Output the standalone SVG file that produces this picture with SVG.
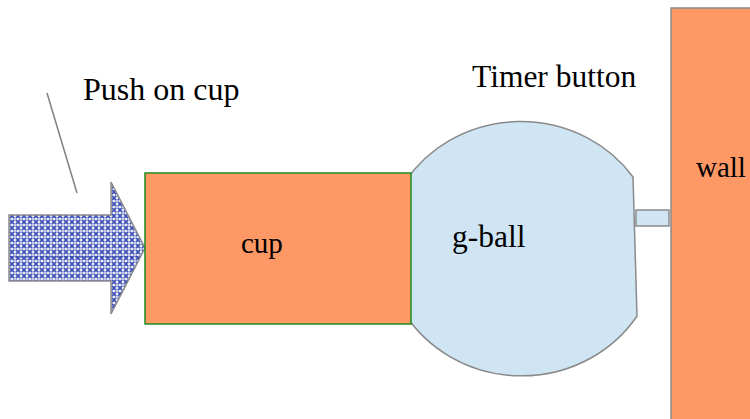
<svg xmlns="http://www.w3.org/2000/svg" width="750" height="419" viewBox="0 0 750 419">
<defs>
<pattern id="lattice" width="6" height="6" patternUnits="userSpaceOnUse">
<rect width="6" height="6" fill="#e8ecfa"/>
<path d="M0,0 L6,6 M6,0 L0,6" stroke="#3d4fb5" stroke-width="1.6"/>
<path d="M3,1.5 V4.5 M1.5,3 H4.5" stroke="#ffffff" stroke-width="0.9"/>
</pattern>
<style>
.t{font-family:"Liberation Serif","Times New Roman",serif;fill:#000}
.orange{fill:#FE9966}
.gray{stroke:#8a8a8a;stroke-width:1.5}
.blue{fill:#CFE5F3}
</style>
</defs>
<g id="connectors">
<line x1="47" y1="93" x2="77" y2="193" stroke="#808080" stroke-width="1.5"/>
</g>
<g id="push-arrow">
<polygon points="9,215 111,215 111,182 145,248 111,314 111,281 9,281" fill="url(#lattice)" class="gray"/>
<line x1="10" y1="257" x2="138" y2="257" stroke="#2a3aa0" stroke-width="1" stroke-dasharray="3,2"/>
</g>
<g id="push-label"><text class="t" x="83" y="100" font-size="32">Push on cup</text></g>
<g id="g-ball">
<path d="M405,182 A137,130 0 0 1 633,177 L637,316 A137,130 0 0 1 405,314 Z" class="blue gray"/>
<text class="t" x="452" y="247" font-size="31.5">g-ball</text>
</g>
<g id="cup">
<rect x="145" y="173" width="266" height="151" class="orange" stroke="#1e8a1e" stroke-width="1.5"/>
<text class="t" x="241" y="253" font-size="29">cup</text>
</g>
<g id="timer-button">
<rect x="636" y="210" width="33" height="16" class="blue gray"/>
</g>
<g id="timer-label"><text class="t" x="472" y="87" font-size="31.5">Timer button</text></g>
<g id="wall">
<rect x="671" y="8" width="100" height="430" class="orange gray"/>
<text class="t" x="696" y="177" font-size="29">wall</text>
</g>
</svg>
